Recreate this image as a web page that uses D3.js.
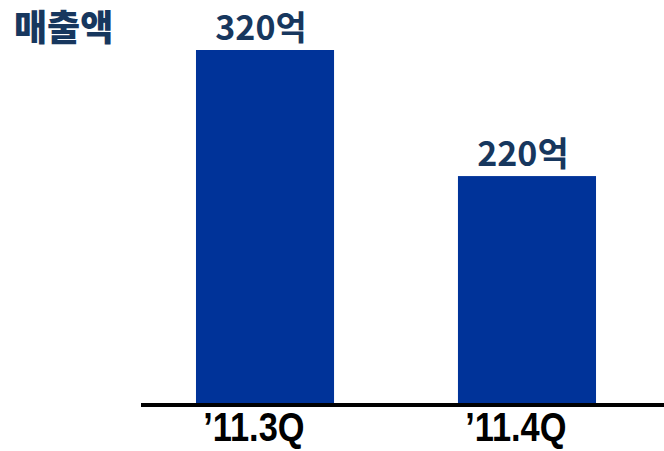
<!DOCTYPE html>
<html>
<head>
<meta charset="utf-8">
<script src="https://cdn.jsdelivr.net/npm/d3@7"></script>
<style>
  body { margin: 0; background: #fff; }
  svg { display: block; }
</style>
</head>
<body>
<svg width="664" height="451"></svg>
<script>
// 매출액 per quarter
const quarters = ["\u201911.3Q", "\u201911.4Q"];
const sales = [320, 220];
const salesLabels = ["320억", "220억"];
const title = "매출액";

const svg = d3.select('svg');
const width = +svg.attr('width');
const height = +svg.attr('height');

const baseY = 403;

const x = d3.scaleBand()
  .domain(quarters)
  .range([65, 727])
  .paddingInner(0.473)
  .paddingOuter(0.5);

// axis does not start at zero in the original
const y = d3.scaleLinear()
  .domain([40, 320])
  .range([baseY, 50]);

const defs = svg.append('defs');
const blur = defs.append('filter').attr('id', 'shadow')
  .attr('x', '-5%').attr('y', '-200%').attr('width', '110%').attr('height', '500%');
blur.append('feGaussianBlur').attr('stdDeviation', 2);

// title
svg.append('text')
  .attr('x', 14)
  .attr('y', 41)
  .attr('font-family', '"Noto Sans CJK KR", sans-serif')
  .attr('font-weight', 900)
  .attr('font-size', 36)
  .attr('fill', '#17375e')
  .text(title);

// bars
svg.selectAll('rect.bar').data(sales)
  .enter().append('rect')
    .attr('class', 'bar')
    .attr('x', (d, i) => x(quarters[i]))
    .attr('y', d => y(d))
    .attr('width', x.bandwidth())
    .attr('height', d => baseY - y(d))
    .attr('fill', '#003399');

// value labels
svg.selectAll('text.val').data(sales)
  .enter().append('text')
    .attr('class', 'val')
    .attr('x', (d, i) => x(quarters[i]) + x.bandwidth() / 2 - 4)
    .attr('y', d => y(d) - 10)
    .attr('text-anchor', 'middle')
    .attr('font-family', '"Noto Sans CJK KR", sans-serif')
    .attr('font-weight', 'bold')
    .attr('font-size', 34)
    .attr('fill', '#17375e')
    .text((d, i) => salesLabels[i]);

// baseline with soft shadow
svg.append('line')
  .attr('x1', 141).attr('x2', width)
  .attr('y1', baseY + 6).attr('y2', baseY + 6)
  .attr('stroke', '#999').attr('stroke-width', 4)
  .attr('filter', 'url(#shadow)');

const xAxis = svg.append('g')
  .attr('transform', `translate(0, ${baseY + 2})`)
  .call(d3.axisBottom(x).tickSize(0).tickPadding(0));
xAxis.select('.domain').remove();
xAxis.append('line')
  .attr('x1', 141).attr('x2', width)
  .attr('stroke', '#000').attr('stroke-width', 4);
xAxis.selectAll('.tick text')
  .attr('dy', 0)
  .attr('y', 36)
  .attr('font-family', '"Liberation Sans", Arial, sans-serif')
  .attr('font-weight', 'bold')
  .attr('font-size', 40)
  .attr('fill', '#000')
  .attr('transform', 'scale(0.86,1)')
  .attr('x', -13);
</script>
</body>
</html>
